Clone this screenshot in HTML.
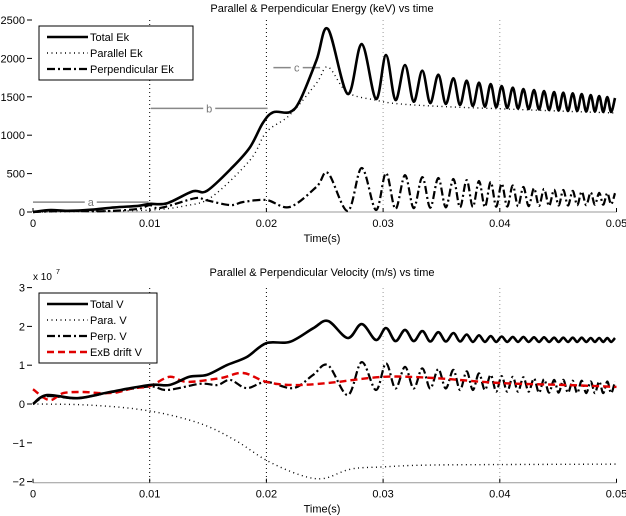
<!DOCTYPE html>
<html><head><meta charset="utf-8"><style>
html,body{margin:0;padding:0;background:#fff;}
svg{display:block;font-family:"Liberation Sans",sans-serif;}
</style></head><body>
<svg id="chart" width="626" height="516" viewBox="0 0 626 516"></svg>
<script>
// ---------- DATA ----------
const xTicks = [0, 0.01, 0.02, 0.03, 0.04, 0.05];
const xTickLabels = ["0", "0.01", "0.02", "0.03", "0.04", "0.05"];
const ekTicks = [0, 500, 1000, 1500, 2000, 2500];
const vTicks = [-2, -1, 0, 1, 2, 3];
// extrema times during oscillation phase (peaks / troughs)
const peakT = [.02528,.02817,.03025,.03188,.03336,.03473,.03602,.03716,.03822,.03922,.04016,.04111,.04202,.04293,.04379,.04465,.04544,.04625,.04702,.04779,.04852,.04921,.04987];
const troughT = [.02697,.02939,.03106,.03262,.03404,.03537,.03659,.03769,.03872,.03969,.04063,.04156,.04247,.04336,.04422,.04504,.04584,.04663,.04740,.04815,.04886,.04954];
// Top panel
const totalEkEarlyT = [0,.0015,.003,.005,.007,.009,.010,.0115,.0137,.0149,.0171,.0186,.0197,.0206,.0220,.0229,.0243];
const totalEkEarly = [0,25,15,30,60,80,105,115,270,275,585,845,1160,1300,1300,1460,1980];
const totalEkPeaks = [2383,2187,2044,1914,1840,1788,1741,1710,1684,1666,1640,1618,1601,1588,1575,1562,1553,1545,1536,1523,1510,1497,1484];
const totalEkTroughs = [1536,1471,1458,1436,1419,1406,1393,1380,1371,1363,1354,1348,1341,1335,1328,1322,1315,1315,1308,1308,1302,1302];
const paraEkT = [0,.005,.010,.013,.0153,.0186,.0200,.0220,.0243,.02528,.0269,.0293,.0315,.036,.0405,.045,.0500];
const paraEk = [0,10,25,80,195,677,1040,1263,1680,1888,1562,1458,1406,1367,1341,1315,1289];
const perpEkEarlyT = [0,.003,.006,.009,.0100,.0109,.0139,.0148,.0169,.0180,.0200,.0220,.0243];
const perpEkEarly = [0,15,10,40,90,52,180,155,90,130,156,65,330];
const perpEkPeaks = [507,573,507,480,455,443,430,416,403,390,370,345,325,310,300,290,286,275,265,255,250,247,245];
const perpEkTroughs = [13,26,40,50,55,60,60,65,65,70,70,75,75,80,80,85,85,90,90,95,95,100];
// Bottom panel (units of 1e7 m/s)
const totalVEarlyT = [0,.0012,.0038,.0066,.0100,.0117,.0134,.0149,.0166,.0183,.0200,.0220,.0240];
const totalVEarly = [0,.23,.15,.31,.49,.49,.70,.75,1.0,1.21,1.57,1.60,1.95];
const totalVPeaks = [2.14,2.06,1.96,1.91,1.88,1.85,1.83,1.79,1.77,1.75,1.74,1.73,1.73,1.72,1.72,1.71,1.71,1.71,1.71,1.70,1.70,1.70,1.70];
const totalVTroughs = [1.70,1.65,1.62,1.62,1.61,1.61,1.61,1.60,1.60,1.60,1.60,1.60,1.60,1.60,1.60,1.60,1.60,1.60,1.60,1.60,1.60,1.60];
const paraVT = [0,.005,.0100,.0143,.0173,.0200,.0229,.0249,.0272,.0300,.0350,.0500];
const paraV = [0,-.03,-.18,-.5,-.93,-1.45,-1.83,-1.92,-1.68,-1.62,-1.57,-1.55];
const perpVEarlyT = [0,.0012,.0038,.0066,.0100,.0115,.0143,.0158,.0169,.0183,.0200,.0223,.0240];
const perpVEarly = [0,.2,.15,.3,.45,.36,.52,.49,.62,.41,.57,.41,.75];
const perpVPeaks = [1.0,1.08,1.05,0.96,0.92,0.90,0.88,0.84,0.79,0.75,0.72,0.70,0.69,0.66,0.64,0.62,0.62,0.60,0.60,0.58,0.58,0.58,0.58];
const perpVTroughs = [0.23,0.36,0.40,0.40,0.40,0.40,0.36,0.36,0.36,0.32,0.32,0.32,0.32,0.29,0.29,0.29,0.29,0.28,0.28,0.28,0.28,0.28];
const exbT = [0,.0014,.0026,.0043,.0058,.0072,.0086,.0100,.0117,.0132,.0161,.0180,.0200,.0223,.0253,.0300,.0343,.0400,.0457,.0500];
const exbV = [.38,.10,.28,.31,.28,.30,.41,.46,.70,.57,.67,.80,.57,.49,.54,.70,.67,.54,.49,.44];

// ---------- SCALES ----------
const X0 = 33, X1 = 616.5;
const xs = t => X0 + (t / 0.05) * (X1 - X0);
const ekY = v => 212 - v * (192 / 2500);
const vY = v => 404 - v * 38.8;

const NS = "http://www.w3.org/2000/svg";
const svg = document.getElementById("chart");
function mk(tag, attrs, parent) {
  const e = document.createElementNS(NS, tag);
  for (const k in attrs) e.setAttribute(k, attrs[k]);
  (parent || svg).appendChild(e);
  return e;
}
function mergeOsc(eT, eV, pV, tV) {
  const T = eT.slice(), V = eV.slice();
  for (let i = 0; i < peakT.length; i++) {
    T.push(peakT[i]); V.push(pV[i]);
    if (i < tV.length) { T.push(troughT[i]); V.push(tV[i]); }
  }
  return [T, V];
}
function smoothPath(T, V, ys) {
  const p = T.map((t, i) => [xs(t), ys(V[i])]);
  let d = "M" + p[0][0].toFixed(1) + "," + p[0][1].toFixed(1);
  for (let i = 0; i < p.length - 1; i++) {
    const p0 = p[i - 1] || p[i], p1 = p[i], p2 = p[i + 1], p3 = p[i + 2] || p2;
    const c1 = [p1[0] + (p2[0] - p0[0]) / 6, p1[1] + (p2[1] - p0[1]) / 6];
    const c2 = [p2[0] - (p3[0] - p1[0]) / 6, p2[1] - (p3[1] - p1[1]) / 6];
    d += " C" + c1.map(n => n.toFixed(1)).join(",") + " " + c2.map(n => n.toFixed(1)).join(",") + " " + p2[0].toFixed(1) + "," + p2[1].toFixed(1);
  }
  return d;
}
function text(x, y, s, anchor, size, name, parent) {
  const e = mk("text", {x: x, y: y, "text-anchor": anchor || "start", "font-size": size || 11, fill: "#000"}, parent);
  e.textContent = s;
  
  
  return e;
}

function axes(g, yTop, yBot, yTicks, yfn, title, titleY, prefix) {
  // grid
  xTicks.forEach((t, i) => {
    if (i === 0 || i === xTicks.length - 1) return;
    const gl = mk("line", {x1: xs(t), x2: xs(t), y1: yTop, y2: yBot, stroke: i <= 2 ? "#000" : "#999", "stroke-width": 1, "stroke-dasharray": "1,3"}, g);
    
    
  });
  const xa = mk("line", {x1: X0, x2: X1, y1: yBot, y2: yBot, stroke: "#999", "stroke-width": 1}, g);
  
  
  xTicks.forEach((t, i) => {
    const tk = mk("line", {x1: xs(t), x2: xs(t), y1: yBot, y2: yBot - 4, stroke: "#000"}, g);
    
    
    text(xs(t), yBot + 15, xTickLabels[i], "middle", 11, prefix + '-x-tick-label', g);
  });
  yTicks.forEach(v => {
    const tk = mk("line", {x1: X0 - 6, x2: X0 - 1, y1: yfn(v), y2: yfn(v), stroke: "#000"}, g);
    
    
    text(X0 - 8, yfn(v) + 4, v < 0 ? "\u2212" + (-v) : String(v), "end", 11, prefix + '-y-tick-label', g);
  });
  text(322, titleY, title, "middle", 11, prefix + '-title', g);
  text(322, yBot + 30, "Time(s)", "middle", 11, prefix + '-x-axis-title', g);
}
function series(g, T, V, yfn, style, name) {
  const p = mk("path", Object.assign({d: smoothPath(T, V, yfn), fill: "none", "stroke-linejoin": "round"}, style), g);
  
  
  return p;
}
function legend(g, x, y, w, rows, prefix) {
  const h = rows.length * 16 + 6;
  const bx = mk("rect", {x: x, y: y, width: w, height: h, fill: "#fff", stroke: "#000", "stroke-width": 1}, g);
  
  
  rows.forEach((r, i) => {
    const yy = y + 11 + i * 16;
    const ln = mk("line", Object.assign({x1: x + 8, x2: x + 49, y1: yy, y2: yy, fill: "none"}, r[1]), g);
    
    
    text(x + 51, yy + 4, r[0], "start", 11, prefix + '-legend-entry', g);
  });
}

const solid = {stroke: "#000", "stroke-width": 2.6};
const dotted = {stroke: "#000", "stroke-width": 1.4, "stroke-dasharray": "1,3.5"};
const dashdot = {stroke: "#000", "stroke-width": 2.2, "stroke-dasharray": "8,3,2,3"};
const redDash = {stroke: "#e00000", "stroke-width": 2.4, "stroke-dasharray": "7,4"};

// ---------- TOP PANEL ----------
const gTop = mk("g", {});


axes(gTop, 20, 212, ekTicks, ekY, "Parallel & Perpendicular Energy (keV) vs time", 12, "energy");
// annotations a, b, c
[[0, 0.0099, 128, "a"], [0.0101, 0.0201, 1350, "b"], [0.0206, 0.0246, 1880, "c"]].forEach(a => {
  const y = ekY(a[2]);
  const l = mk("line", {x1: xs(a[0]), x2: xs(a[1]), y1: y, y2: y, stroke: "#888", "stroke-width": 1.5}, gTop);
  
  
  const mx = (xs(a[0]) + xs(a[1])) / 2;
  const bg = mk("rect", {x: mx - 6, y: y - 6, width: 12, height: 12, fill: "#fff"}, gTop);
  
  
  const t = text(mx, y + 4, a[3], "middle", 11, 'phase-' + a[3] + '-label', gTop);
  t.setAttribute("fill", "#777");
});
let d;
series(gTop, paraEkT, paraEk, ekY, dotted, "parallel-ek-line");
d = mergeOsc(perpEkEarlyT, perpEkEarly, perpEkPeaks, perpEkTroughs);
series(gTop, d[0], d[1], ekY, dashdot, "perpendicular-ek-line");
d = mergeOsc(totalEkEarlyT, totalEkEarly, totalEkPeaks, totalEkTroughs);
series(gTop, d[0], d[1], ekY, solid, "total-ek-line");
legend(gTop, 39, 26, 154, [["Total Ek", solid], ["Parallel Ek", dotted], ["Perpendicular Ek", dashdot]], "energy");

// ---------- BOTTOM PANEL ----------
const gBot = mk("g", {});


axes(gBot, 288, 482.7, vTicks, vY, "Parallel & Perpendicular Velocity (m/s) vs time", 276, "velocity");
const ex = text(33, 280, "x 10", "start", 10, "velocity-exponent", gBot);
const ex7 = text(56, 274, "7", "start", 7, "velocity-exponent-power", gBot);
series(gBot, paraVT, paraV, vY, dotted, "para-v-line");
d = mergeOsc(perpVEarlyT, perpVEarly, perpVPeaks, perpVTroughs);
series(gBot, d[0], d[1], vY, dashdot, "perp-v-line");
series(gBot, exbT, exbV, vY, redDash, "exb-drift-v-line");
d = mergeOsc(totalVEarlyT, totalVEarly, totalVPeaks, totalVTroughs);
series(gBot, d[0], d[1], vY, solid, "total-v-line");
legend(gBot, 39, 293, 118, [["Total V", solid], ["Para. V", dotted], ["Perp. V", dashdot], ["ExB drift V", redDash]], "velocity");
</script>
</body></html>
